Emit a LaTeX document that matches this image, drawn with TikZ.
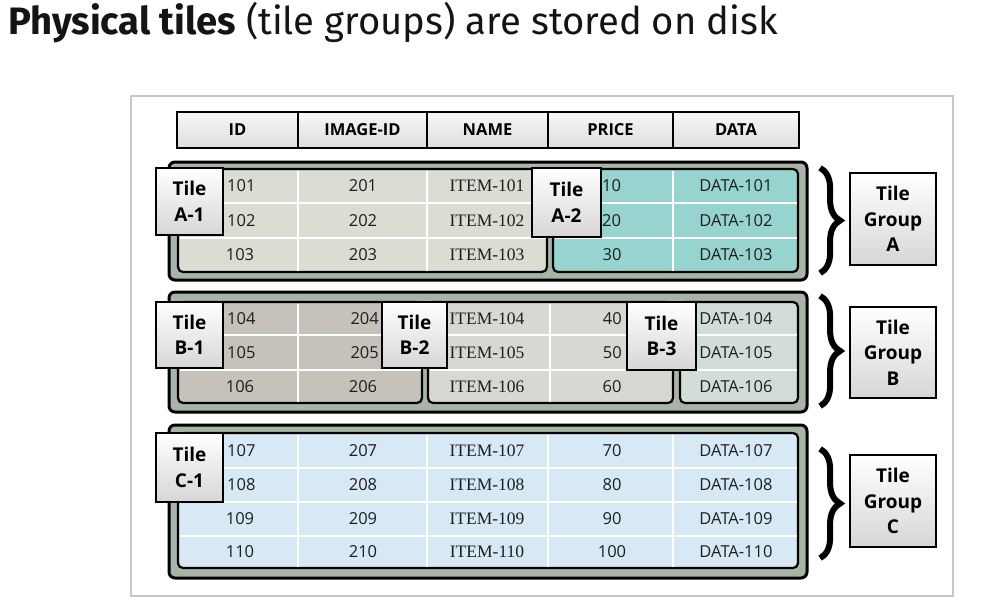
\documentclass[tikz,border=0pt]{standalone}
\usepackage{fontspec}
\setmainfont{Open Sans}
\newfontfamily\titlefont{Fira Sans}
\newfontfamily\itemfont{Liberation Serif}
\usetikzlibrary{positioning, fit, decorations.pathreplacing}

\definecolor{groupgray}{HTML}{A9B4A8}
\definecolor{tileAone}{HTML}{D9DDD2}
\definecolor{tileAtwo}{HTML}{98D4CF}
\definecolor{tileBone}{HTML}{C6C2BA}
\definecolor{tileBtwo}{HTML}{D9D7D4}
\definecolor{tileBthree}{HTML}{D3DDD8}
\definecolor{tileCone}{HTML}{D6E9F5}
\definecolor{celltext}{HTML}{1E1E1E}

\tikzset{
  frame/.style={draw=black!22, line width=1.5pt, inner sep=0pt},
  group/.style={draw=black, line width=3pt, rounded corners=6pt, fill=groupgray, inner sep=0pt},
  tile/.style={draw=black, line width=2.2pt, rounded corners=5pt, inner sep=0pt},
  gridline/.style={white, line width=1.2pt},
  head/.style={draw=black, line width=2.5pt, outer sep=0pt, inner sep=0pt,
    top color=black!3, bottom color=black!13, minimum height=36pt,
    font=\bfseries\fontsize{16.5}{16.5}\selectfont},
  lbl/.style={draw=black, line width=2pt, inner sep=0pt, align=center,
    top color=white, bottom color=black!16,
    font=\bfseries\fontsize{19}{25.5}\selectfont},
  cell/.style={font=\fontsize{16.5}{16.5}\selectfont, text=celltext, inner sep=0pt},
  itm/.style={font=\itemfont\fontsize{17.5}{17.5}\selectfont, text=celltext, inner sep=0pt},
  grpbrace/.style={decorate, decoration={brace, amplitude=20pt}, line width=6pt}
}

\begin{document}
\begin{tikzpicture}[x=1pt, y=-1pt]
\useasboundingbox (0,0) rectangle (994,603);

\node[anchor=base west, font=\titlefont\fontsize{38.2}{40}\selectfont, text=black!92, inner sep=0pt] (title) at (8,34)
  {\textbf{Physical tiles} (tile groups) are stored on disk};

\node[frame, fit={(131,96) (953,596)}] (frame) {};

% column heads
\node[head, minimum width=121pt] (hid) at (237.5,130) {ID};
\node[head, minimum width=129pt, right=0pt of hid] (himg) {IMAGE-ID};
\node[head, minimum width=121pt, right=0pt of himg] (hname) {NAME};
\node[head, minimum width=125pt, right=0pt of hname] (hprice) {PRICE};
\node[head, minimum width=126pt, right=0pt of hprice] (hdata) {DATA};

% tile groups
\node[group, fit={(169,162) (807,280)}] (ga) {};
\node[group, fit={(169,292) (807,412)}] (gb) {};
\node[group, fit={(169,425) (807,578)}] (gc) {};

\node[tile, fill=tileAone, fit={(178,169) (547,272)}] (ta1) {};
\node[tile, fill=tileAtwo, fit={(553,169) (798,272)}] (ta2) {};
\node[tile, fill=tileBone, fit={(178,302) (422,403)}] (tb1) {};
\node[tile, fill=tileBtwo, fit={(428,302) (673,403)}] (tb2) {};
\node[tile, fill=tileBthree, fit={(680,302) (798,403)}] (tb3) {};
\node[tile, fill=tileCone, fit={(178,433) (798,568)}] (tc1) {};

% cell lines
\foreach \y in {203,238} {
  \draw[gridline] (179.5,\y) -- (545.5,\y);
  \draw[gridline] (554.5,\y) -- (796.5,\y);
}
\foreach \x in {298,427} \draw[gridline] (\x,170.5) -- (\x,270.5);
\draw[gridline] (673,170.5) -- (673,270.5);
\foreach \y in {335,370} {
  \draw[gridline] (179.5,\y) -- (420.5,\y);
  \draw[gridline] (429.5,\y) -- (671.5,\y);
  \draw[gridline] (681.5,\y) -- (796.5,\y);
}
\draw[gridline] (298,303.5) -- (298,401.5);
\draw[gridline] (550,303.5) -- (550,401.5);
\foreach \y in {468,502,536} \draw[gridline] (179.5,\y) -- (796.5,\y);
\foreach \x in {298,427,548,673} \draw[gridline] (\x,434.5) -- (\x,566.5);

% group A
\node[cell, anchor=west] (a101) at (227,186) {101};
\node[cell, anchor=west] (a102) at (227,220.5) {102};
\node[cell] (a103) at (240,255) {103};
\foreach \n/\y in {1/186, 2/220.5, 3/255} {
  \node[cell] (a20\n) at (363,\y) {20\n};
  \node[itm] (ai10\n) at (487,\y) {ITEM-10\n};
  \node[cell] (ad10\n) at (736,\y) {DATA-10\n};
}
\node[cell, anchor=west] (ap10) at (602,186) {10};
\node[cell, anchor=west] (ap20) at (602,220.5) {20};
\node[cell] (ap30) at (612,255) {30};

% group B
\node[cell, anchor=west] (b104) at (227,318.5) {104};
\node[cell, anchor=west] (b105) at (227,352.5) {105};
\node[cell] (b106) at (240,386.5) {106};
\node[cell, anchor=east] (b204) at (379,318.5) {204};
\node[cell, anchor=east] (b205) at (379,352.5) {205};
\node[cell] (b206) at (363,386.5) {206};
\foreach \n/\y in {4/318.5, 5/352.5, 6/386.5} {
  \node[itm] (bi10\n) at (487,\y) {ITEM-10\n};
  \node[cell] (bd10\n) at (736,\y) {DATA-10\n};
}
\node[cell, anchor=east] (bp40) at (622,318.5) {40};
\node[cell, anchor=east] (bp50) at (622,352.5) {50};
\node[cell] (bp60) at (612,386.5) {60};

% group C
\node[cell, anchor=west] (c107) at (227,450.5) {107};
\node[cell, anchor=west] (c108) at (227,485) {108};
\foreach \n/\p/\y in {7/70/450.5, 8/80/485} {
  \node[cell] (c20\n) at (363,\y) {20\n};
  \node[itm] (ci10\n) at (487,\y) {ITEM-10\n};
  \node[cell] (cp\n) at (612,\y) {\p};
  \node[cell] (cd10\n) at (736,\y) {DATA-10\n};
}
\node[cell] (c109) at (240,519) {109};
\node[cell] (c209) at (363,519) {209};
\node[itm] (ci109) at (487,519) {ITEM-109};
\node[cell] (cp9) at (612,519) {90};
\node[cell] (cd109) at (736,519) {DATA-109};
\node[cell] (c110) at (240,552) {110};
\node[cell] (c210) at (363,552) {210};
\node[itm] (ci110) at (487,552) {ITEM-110};
\node[cell] (cp10) at (612,552) {100};
\node[cell] (cd110) at (736,552) {DATA-110};

% tile names
\node[lbl, minimum width=67pt, minimum height=67pt] (la1) at (189.5,201.5) {Tile\\A-1};
\node[lbl, minimum width=69pt, minimum height=69pt] (la2) at (566.5,202.5) {Tile\\A-2};
\node[lbl, minimum width=67pt, minimum height=66pt] (lb1) at (189.5,335) {Tile\\B-1};
\node[lbl, minimum width=65pt, minimum height=66pt] (lb2) at (414.5,335) {Tile\\B-2};
\node[lbl, minimum width=69pt, minimum height=68pt] (lb3) at (661.5,336) {Tile\\B-3};
\node[lbl, minimum width=67pt, minimum height=69pt] (lc1) at (189.5,467.5) {Tile\\C-1};

% braces and group names
\draw[grpbrace] ([xshift=21pt]ta2.north east) -- ([xshift=21pt]ta2.south east);
\draw[grpbrace] ([xshift=21pt,yshift=5pt]tb3.north east) -- ([xshift=21pt,yshift=-2pt]tb3.south east);
\draw[grpbrace] ([xshift=21pt,yshift=-17pt]tc1.north east) -- ([xshift=21pt,yshift=11pt]tc1.south east);
\node[lbl, minimum width=86pt, minimum height=92pt] (lga) at (893,219) {Tile\\Group\\A};
\node[lbl, minimum width=86pt, minimum height=91pt] (lgb) at (893,352.5) {Tile\\Group\\B};
\node[lbl, minimum width=86pt, minimum height=92pt] (lgc) at (893,501) {Tile\\Group\\C};
\end{tikzpicture}
\end{document}
